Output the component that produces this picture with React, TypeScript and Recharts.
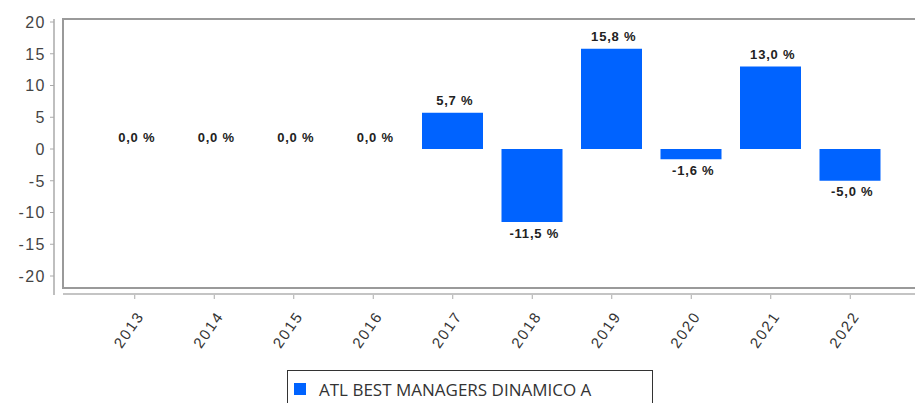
import React from "react";
import { ComposedChart, Bar, Line, XAxis, YAxis, LabelList, Legend } from "recharts";

const years = ["2013", "2014", "2015", "2016", "2017", "2018", "2019", "2020", "2021", "2022"];
const returns = [0.0, 0.0, 0.0, 0.0, 5.7, -11.5, 15.8, -1.6, 13.0, -5.0];
const yTicks = [-20, -15, -10, -5, 0, 5, 10, 15, 20];
const seriesName = "ATL BEST MANAGERS DINAMICO A";

const data = years.map((y, i) => ({ year: y, value: returns[i] }));

const BLUE = "#0063FF";

const fmt = (v: number) => v.toFixed(1).replace(".", ",") + " %";

const XTick = (props: any) => {
  const { x, y, payload } = props;
  const ax = x + 10;
  const ay = y + 15;
  return (
    <text
      x={ax}
      y={ay}
      textAnchor="end"
      transform={`rotate(-55, ${ax}, ${ay})`}
      fontFamily="'Liberation Sans', Arial, sans-serif"
      fontSize={15}
      letterSpacing={1.8}
      fill="#333"
    >
      {payload.value}
    </text>
  );
};

const YTick = (props: any) => {
  const { x, y, payload } = props;
  return (
    <text
      x={x - 2}
      y={y}
      dy="0.36em"
      textAnchor="end"
      fontFamily="'Liberation Sans', Arial, sans-serif"
      fontSize={16}
      letterSpacing={1.5}
      fill="#444"
    >
      {payload.value}
    </text>
  );
};

const PointLabel = (props: any) => {
  const { x, y, value } = props;
  const cy = value >= 0 ? y - 12 : y + 11;
  return (
    <text
      x={x + 2}
      y={cy}
      dy="0.36em"
      textAnchor="middle"
      fontFamily="'Liberation Sans', Arial, sans-serif"
      fontSize={13}
      fontWeight="bold"
      letterSpacing={0.8}
      fill="#222"
    >
      {fmt(value)}
    </text>
  );
};

const LegendBox = () => (
  <div
    style={{
      boxSizing: "border-box",
      width: 366,
      height: 33,
      border: "1.5px solid #333",
      borderBottom: "none",
      display: "flex",
      alignItems: "center",
      paddingLeft: 6,
      paddingTop: 4,
      fontFamily: "'Open Sans', sans-serif",
      fontSize: 17,
      color: "#333",
      whiteSpace: "nowrap",
    }}
  >
    <span style={{ display: "inline-block", width: 12, height: 12, background: BLUE, marginRight: 13 }} />
    {seriesName}
  </div>
);

export default function App() {
  return (
    <div style={{ position: "absolute", left: 0, top: 0, width: 915, height: 403, overflow: "hidden", background: "#fff" }}>
      <ComposedChart
        width={915}
        height={403}
        data={data}
        margin={{ top: 19, right: 0, bottom: 0, left: 0 }}
      >
        <XAxis
          dataKey="year"
          axisLine={false}
          tickLine={{ stroke: "#aaa" }}
          tickSize={4}
          tick={<XTick />}
          interval={0}
          height={75}
          padding={{ left: 41, right: 25 }}
        />
        <YAxis
          domain={[-20, 20]}
          ticks={yTicks}
          interval={0}
          width={54}
          axisLine={{ stroke: "#aaa", strokeWidth: 1.5 }}
          tickLine={{ stroke: "#aaa" }}
          tickSize={4}
          tick={<YTick />}
          padding={{ top: 3, bottom: 19 }}
        />
        <Legend
          verticalAlign="bottom"
          height={33}
          content={<LegendBox />}
          wrapperStyle={{ left: 287, width: 366 }}
        />
        <Bar dataKey="value" name={seriesName} fill={BLUE} barSize={61} isAnimationActive={false} />
        <Line
          dataKey="value"
          stroke="none"
          dot={false}
          activeDot={false}
          legendType="none"
          isAnimationActive={false}
        >
          <LabelList dataKey="value" content={<PointLabel />} />
        </Line>
      </ComposedChart>
      <div
        style={{
          position: "absolute",
          left: 62,
          top: 18,
          width: 880,
          height: 267,
          border: "2px solid #9a9a9a",
          pointerEvents: "none",
        }}
      />
      <div
        style={{
          position: "absolute",
          left: 63,
          top: 293,
          width: 860,
          height: 2,
          background: "#c4c4c4",
          pointerEvents: "none",
        }}
      />
    </div>
  );
}
